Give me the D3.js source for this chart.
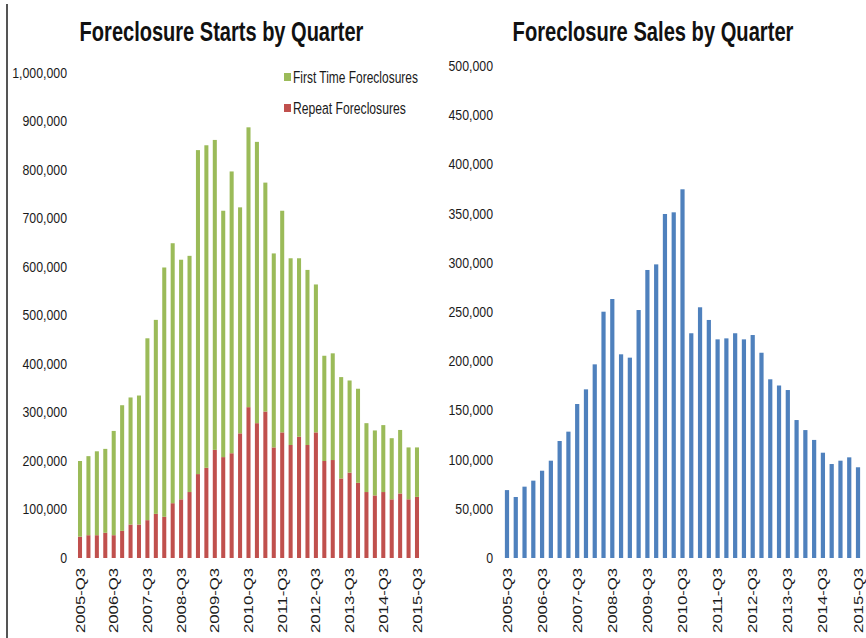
<!DOCTYPE html>
<html>
<head>
<meta charset="utf-8">
<script src="https://cdn.jsdelivr.net/npm/d3@7"></script>
<style>
  body { margin: 0; background: #fff; }
  text { font-family: "Liberation Sans", Arial, sans-serif; }
</style>
</head>
<body>
<div id="chart"></div>
<script>
var quarters = ["2005-Q3","2005-Q4","2006-Q1","2006-Q2","2006-Q3","2006-Q4","2007-Q1","2007-Q2",
    "2007-Q3","2007-Q4","2008-Q1","2008-Q2","2008-Q3","2008-Q4","2009-Q1","2009-Q2",
    "2009-Q3","2009-Q4","2010-Q1","2010-Q2","2010-Q3","2010-Q4","2011-Q1","2011-Q2",
    "2011-Q3","2011-Q4","2012-Q1","2012-Q2","2012-Q3","2012-Q4","2013-Q1","2013-Q2",
    "2013-Q3","2013-Q4","2014-Q1","2014-Q2","2014-Q3","2014-Q4","2015-Q1","2015-Q2","2015-Q3"];
var tickQuarters = ["2005-Q3","2006-Q3","2007-Q3","2008-Q3","2009-Q3","2010-Q3",
    "2011-Q3","2012-Q3","2013-Q3","2014-Q3","2015-Q3"];

// foreclosure starts (thousands)
var repeatStarts = [44,47,47,52,47,56,69,69,78,91,85,113,121,136,173,186,223,208,216,257,
    311,278,302,228,259,233,250,233,259,200,202,164,176,155,136,129,136,121,133,121,126];
var firstStarts = [156,163,173,173,215,259,262,266,375,400,514,536,494,487,668,665,639,508,581,466,
    577,580,472,400,457,385,368,361,305,217,220,209,190,194,142,134,138,126,131,107,102];
// foreclosure sales (thousands)
var sales = [69,62,72.5,78.6,88.7,98.9,118.9,128.4,156.5,171.4,196.8,250.3,263.2,207,203.6,252,
    292.7,298.4,349.6,351.3,374.7,228.4,254.8,241.9,222.2,223.2,228.4,222.2,226.6,208.6,
    181.6,175.3,170.7,140.2,130,120,107,95.5,98.9,102.3,92.2];

var startTicks = [0,100000,200000,300000,400000,500000,600000,700000,800000,900000,1000000],
    salesTicks = [0,50000,100000,150000,200000,250000,300000,350000,400000,450000,500000];

var green = "#9bbb59", red = "#c0504d", blue = "#4f81bd";

var svg = d3.select("#chart").append("svg")
    .attr("width", 866)
    .attr("height", 638);

// left border line
svg.append("line")
    .attr("x1", 7).attr("x2", 7).attr("y1", 4).attr("y2", 638)
    .attr("stroke", "#555").attr("stroke-width", 2);

// narrow the text along its own direction so it reads like the condensed original
function narrowTo(el, target, pre) {
    var w = el.getComputedTextLength(),
        k = target / w;
    d3.select(el).attr("transform", (pre || "") + " scale(" + k + ",1)");
    return k;
}

var fmt = d3.format(",");

function yAxis(g, y, ticks) {
    g.call(d3.axisLeft(y).tickValues(ticks).tickSize(0).tickPadding(0).tickFormat(fmt));
    g.select(".domain").remove();
    g.selectAll("text")
        .attr("font-family", "Liberation Sans, Arial, sans-serif")
        .attr("font-size", 14)
        .attr("fill", "#1a1a1a")
        .each(function() { narrowTo(this, this.getComputedTextLength() * 0.88); });
}

function xAxis(g, x) {
    g.call(d3.axisBottom(x).tickValues(tickQuarters).tickSize(0));
    g.select(".domain").remove();
    g.selectAll("text")
        .attr("font-family", "Liberation Sans, Arial, sans-serif")
        .attr("font-size", 13)
        .attr("fill", "#1a1a1a")
        .attr("text-anchor", "end")
        .attr("y", 0)
        .attr("dy", "0.35em")
        .each(function() {
            var k = narrowTo(this, 65, "rotate(-90)");
            d3.select(this).attr("x", -10 / k);
        });
}

function title(g, label, cx, width) {
    var t = g.append("text")
        .attr("x", 0).attr("y", 0)
        .attr("text-anchor", "middle")
        .attr("font-size", 28).attr("font-weight", "bold").attr("fill", "#111")
        .text(label);
    narrowTo(t.node(), width, "translate(" + cx + ",41)");
}

// ---- left: starts ----
var xL = d3.scaleBand().domain(quarters).range([75.8, 421.2]).paddingInner(0.52).paddingOuter(0.26),
    yL = d3.scaleLinear().domain([0, 1000000]).range([558, 73]);

var startRows = quarters.map(function(q, i) {
    return {q: q, repeat: repeatStarts[i] * 1000, first: firstStarts[i] * 1000};
});
var stacked = d3.stack().keys(["repeat", "first"])(startRows);
var colorL = {repeat: red, first: green};

var left = svg.append("g");
left.selectAll("g.layer").data(stacked).enter().append("g")
    .attr("class", "layer")
    .attr("fill", function(d) { return colorL[d.key]; })
  .selectAll("rect").data(function(d) { return d; }).enter().append("rect")
    .attr("x", function(d) { return xL(d.data.q); })
    .attr("width", xL.bandwidth())
    .attr("y", function(d) { return yL(d[1]); })
    .attr("height", function(d) { return yL(d[0]) - yL(d[1]); });

left.append("g").attr("transform", "translate(67,0)").call(yAxis, yL, startTicks);
left.append("g").attr("transform", "translate(0,558)").call(xAxis, xL);
title(left, "Foreclosure Starts by Quarter", 221.5, 284);

var legend = [{label: "First Time Foreclosures", color: green, y: 77, w: 125},
              {label: "Repeat Foreclosures", color: red, y: 108, w: 113}];
var lg = left.selectAll("g.legend").data(legend).enter().append("g")
    .attr("class", "legend")
    .attr("transform", function(d) { return "translate(284," + d.y + ")"; });
lg.append("rect")
    .attr("x", 0).attr("y", -4).attr("width", 7).attr("height", 8)
    .attr("fill", function(d) { return d.color; });
lg.append("text")
    .attr("x", 0).attr("y", 0).attr("dy", "0.36em")
    .attr("font-size", 17).attr("fill", "#1a1a1a")
    .text(function(d) { return d.label; })
    .each(function(d) { narrowTo(this, d.w, "translate(9,0)"); });

// ---- right: sales ----
var xR = d3.scaleBand().domain(quarters).range([502.6, 862.4]).paddingInner(0.52).paddingOuter(0.26),
    yR = d3.scaleLinear().domain([0, 500000]).range([558, 66]);

var right = svg.append("g");
right.selectAll("rect").data(sales).enter().append("rect")
    .attr("x", function(d, i) { return xR(quarters[i]); })
    .attr("width", xR.bandwidth())
    .attr("y", function(d) { return yR(d * 1000); })
    .attr("height", function(d) { return yR(0) - yR(d * 1000); })
    .attr("fill", blue);

right.append("g").attr("transform", "translate(493,0)").call(yAxis, yR, salesTicks);
right.append("g").attr("transform", "translate(0,558)").call(xAxis, xR);
title(right, "Foreclosure Sales by Quarter", 653, 281);
</script>
</body>
</html>
